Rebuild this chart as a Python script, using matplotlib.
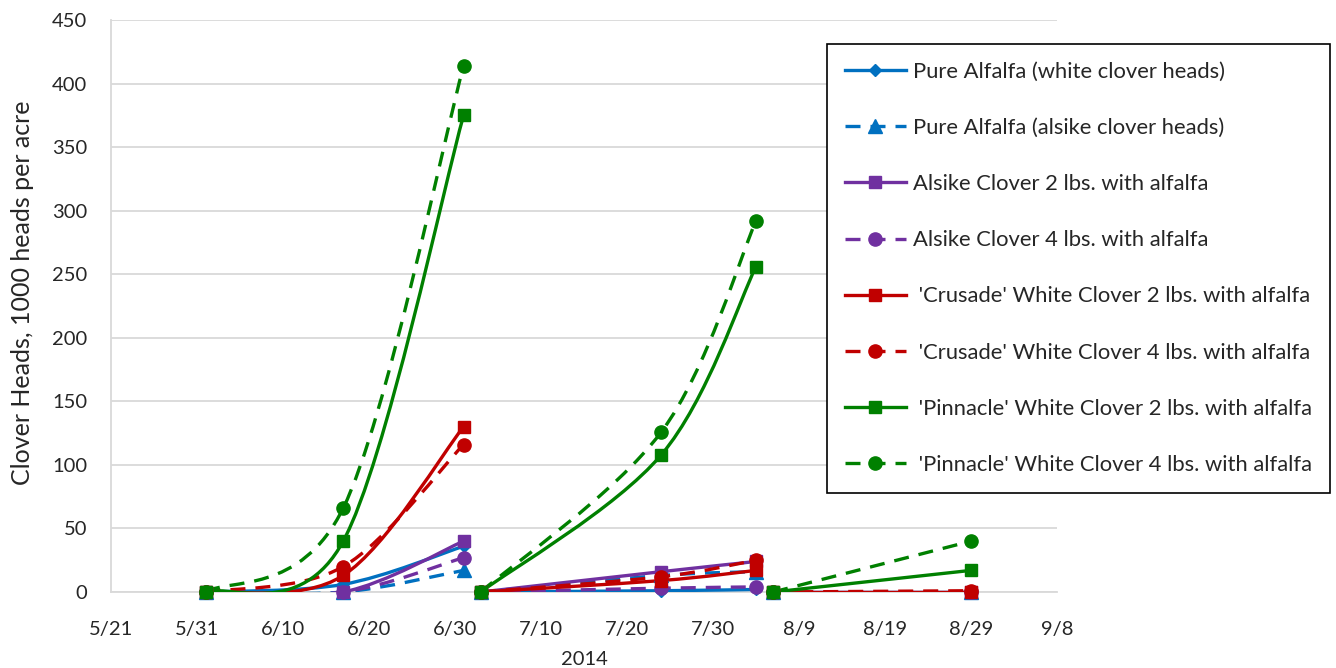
import numpy as np
import datetime as dt
import matplotlib
matplotlib.use('Agg')
import matplotlib.pyplot as plt
import matplotlib.dates as mdates
from matplotlib.path import Path
from matplotlib.patches import PathPatch
from matplotlib.lines import Line2D
from matplotlib.ticker import FuncFormatter

plt.rcParams['font.family'] = ['Lato', 'DejaVu Sans']

#sampling dates, three cuttings
dates = ['2014-06-01', '2014-06-17', '2014-07-01',
         '2014-07-03', '2014-07-24', '2014-08-04',
         '2014-08-06', '2014-08-29']
cuttings = [[0, 1, 2], [3, 4, 5], [6, 7]]

labels = [
    'Pure Alfalfa (white clover heads)',
    'Pure Alfalfa (alsike clover heads)',
    'Alsike Clover 2 lbs. with alfalfa',
    'Alsike Clover 4 lbs. with alfalfa',
    " 'Crusade' White Clover 2 lbs. with alfalfa",
    " 'Crusade' White Clover 4 lbs. with alfalfa",
    " 'Pinnacle' White Clover 2 lbs. with alfalfa",
    " 'Pinnacle' White Clover 4 lbs. with alfalfa",
]

pure_white = [0, 6, 36, 0, 1, 2, 0, 0]
pure_alsike = [0, 0, 17, 0, 13, 16, 0, 0]
alsike_2 = [0, 0, 40, 0, 16, 24, 0, 0]
alsike_4 = [0, 0, 27, 0, 3, 4, 0, 0]
crusade_2 = [0, 13, 130, 0, 9, 17, 0, 0]
crusade_4 = [0, 20, 116, 0, 12, 25, 0, 1]
pinnacle_2 = [0, 40, 375, 0, 108, 256, 0, 17]
pinnacle_4 = [0, 66, 414, 0, 126, 292, 0, 40]

series = [pure_white, pure_alsike, alsike_2, alsike_4,
          crusade_2, crusade_4, pinnacle_2, pinnacle_4]

blue = '#0070C0'
purple = '#7030A0'
red = '#C00000'
green = '#008000'
styles = [
    (blue, '-', 'D', 6),
    (blue, '--', '^', 9.5),
    (purple, '-', 's', 9),
    (purple, '--', 'o', 9.5),
    (red, '-', 's', 9),
    (red, '--', 'o', 9.5),
    (green, '-', 's', 9),
    (green, '--', 'o', 9.5),
]
dash = (0, (4.5, 3))
lw = 2.4


def smooth_path(xs, ys):
    #excel style smoothing: cubic bezier with catmull-rom control points
    pts = np.column_stack([xs, ys]).astype(float)
    n = len(pts)
    if n < 3:
        return Path(pts, [Path.MOVETO] + [Path.LINETO] * (n - 1))
    verts = [pts[0]]
    codes = [Path.MOVETO]
    for i in range(n - 1):
        p0 = pts[max(i - 1, 0)]
        p1 = pts[i]
        p2 = pts[i + 1]
        p3 = pts[min(i + 2, n - 1)]
        c1 = p1 + (p2 - p0) / 6.0
        c2 = p2 - (p3 - p1) / 6.0
        verts += [c1, c2, p2]
        codes += [Path.CURVE4] * 3
    return Path(verts, codes)


x_dates = [dt.datetime.strptime(d, '%Y-%m-%d') for d in dates]
x_num = mdates.date2num(x_dates)

fig = plt.figure(figsize=(13.36, 6.68), dpi=100)
ax = fig.add_axes([111 / 1336, 1 - 592 / 668, (1057 - 111) / 1336, (592 - 20) / 668])

for vals, (col, ls, mk, ms) in zip(series, styles):
    vals = np.array(vals, dtype=float)
    for idx in cuttings:
        path = smooth_path(x_num[idx], vals[idx])
        patch = PathPatch(path, facecolor='none', edgecolor=col, lw=lw,
                          linestyle=dash if ls == '--' else '-',
                          capstyle='butt', joinstyle='round', zorder=3)
        ax.add_patch(patch)
        ax.plot(x_num[idx], vals[idx], linestyle='none', marker=mk,
                markersize=ms, color=col, zorder=4, clip_on=False)

#axes styling
start = mdates.date2num(dt.datetime(2014, 5, 21))
end = mdates.date2num(dt.datetime(2014, 9, 8))
ax.set_xlim(start, end)
ax.set_ylim(0, 450)
ax.set_xticks(np.arange(start, end + 1, 10))
ax.xaxis.set_major_formatter(FuncFormatter(
    lambda v, p: '{}/{}'.format(mdates.num2date(v).month, mdates.num2date(v).day)))
ax.set_yticks(np.arange(0, 451, 50))
ax.yaxis.grid(True, color='#D9D9D9', lw=1.3)
ax.set_axisbelow(True)
for s in ['top', 'right']:
    ax.spines[s].set_visible(False)
ax.spines['left'].set_color('#D9D9D9')
ax.spines['bottom'].set_color('#D9D9D9')
ax.spines['left'].set_linewidth(1.3)
ax.spines['bottom'].set_linewidth(1.3)
ax.tick_params(axis='both', length=0, labelsize=14.5, colors='#404040', labelcolor='#262626')
ax.tick_params(axis='x', pad=21)
ax.tick_params(axis='y', pad=17)
ax.set_xlabel('2014', fontsize=14.5, color='#262626', labelpad=9)
ax.set_ylabel('Clover Heads, 1000 heads per acre', fontsize=18, color='#262626')
ax.yaxis.set_label_coords(-0.081, 0.524)

#legend
handles = []
for (col, ls, mk, ms) in styles:
    handles.append(Line2D([], [], color=col, lw=lw, linestyle=dash if ls == '--' else '-',
                          marker=mk, markersize=ms))
leg = fig.legend(handles, labels, loc='upper left',
                 bbox_to_anchor=(827 / 1336, 1 - 44 / 668, (1330 - 827) / 1336, 0.0),
                 mode='expand', fontsize=15.8, labelspacing=1.65, handlelength=2.8,
                 handletextpad=0.3, borderpad=0.8, borderaxespad=0, fancybox=False,
                 edgecolor='black', framealpha=1)
leg.get_frame().set_linewidth(1.2)
for t in leg.get_texts():
    t.set_color('#262626')

fig.savefig('out.png', dpi=100)
